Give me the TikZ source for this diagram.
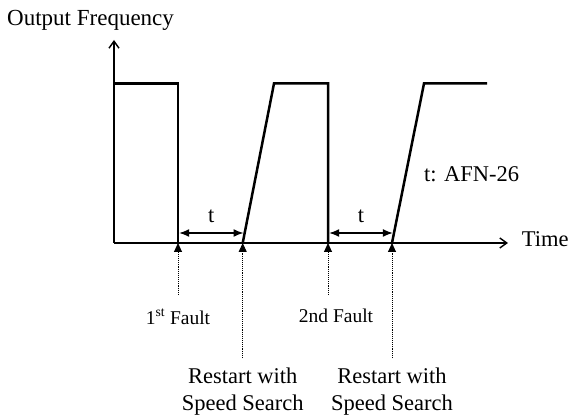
\documentclass[tikz,border=0pt]{standalone}
\usepackage{fontspec}
\setmainfont{Liberation Serif}
\usetikzlibrary{arrows.meta,positioning,calc}

\begin{document}
\begin{tikzpicture}[
    x=1pt, y=-1pt,
    wave/.style={line width=2.5pt,line join=miter},
    axis/.style={line width=1.4pt,-{Straight Barb[length=7pt,width=10pt]}},
    gap/.style={line width=1.4pt,{Latex[length=10pt,width=8pt]}-{Latex[length=10pt,width=8pt]}},
    trig/.style={densely dotted,line width=0.9pt,-{Triangle[length=9pt,width=8pt]}},
    txt/.style={font=\fontsize{22.5}{27.5}\selectfont,inner sep=0pt},
    flab/.style={font=\fontsize{19.5}{23}\selectfont,inner xsep=0pt,inner ysep=13.7pt,anchor=north},
    rlab/.style={txt,inner ysep=9.3pt,anchor=north,align=center},
    tlab/.style={txt,above=10pt},
  ]
  \useasboundingbox (0,0) rectangle (571,419);

  % axes
  \coordinate (o)    at (114,243);
  \coordinate (ytop) at (114,40);
  \coordinate (xend) at (508,243);
  \draw[axis] (o) -- (ytop);
  \draw[axis] (o) -- (xend);

  % instants on the time axis: faults (f) and restarts (r)
  \coordinate (top) at (114,83.5);
  \coordinate (f1) at (178,243);
  \coordinate (r1) at (242.7,243);
  \coordinate (f2) at (328,243);
  \coordinate (r2) at (392,243);

  % output frequency
  \draw[wave] (top) -- (f1 |- top) -- (f1);
  \draw[wave] (r1) -- ($(r1 |- top)+(31.3,0)$) -- (f2 |- top) -- (f2);
  \draw[wave] (r2) -- ($(r2 |- top)+(32,0)$) -- ($(o |- top)+(373,0)$);

  % waiting time t between fault and restart
  \coordinate (g1a) at (179.2,233);
  \coordinate (g1b) at (243.5,233);
  \coordinate (g2a) at (329.2,233);
  \coordinate (g2b) at (392.8,233);
  \draw[gap] (g1a) -- node[tlab] (t1) {t} (g1b);
  \draw[gap] (g2a) -- node[tlab] (t2) {t} (g2b);

  % texts
  \node[txt,anchor=base west,font=\fontsize{23}{27.5}\selectfont] (ylab) at (7,26) {Output Frequency};
  \node[txt,anchor=base west] (xlab) at (521.7,246.7) {Time};
  \node[txt,anchor=base west] (note) at (424,181.7) {t: AFN-26};

  % events below the axis
  \node[flab] (fl1) at (178,295) {1\textsuperscript{st} Fault};
  \node[flab,xshift=8pt] (fl2) at (328,295) {2nd Fault};
  \node[rlab] (rl1) at (242.7,358) {Restart with\\Speed Search};
  \node[rlab] (rl2) at (392,358) {Restart with\\Speed Search};

  \draw[trig] (fl1) -- (f1);
  \draw[trig] (fl2.north -| f2) -- (f2);
  \draw[trig] (rl1) -- (r1);
  \draw[trig] (rl2) -- (r2);

\end{tikzpicture}
\end{document}
